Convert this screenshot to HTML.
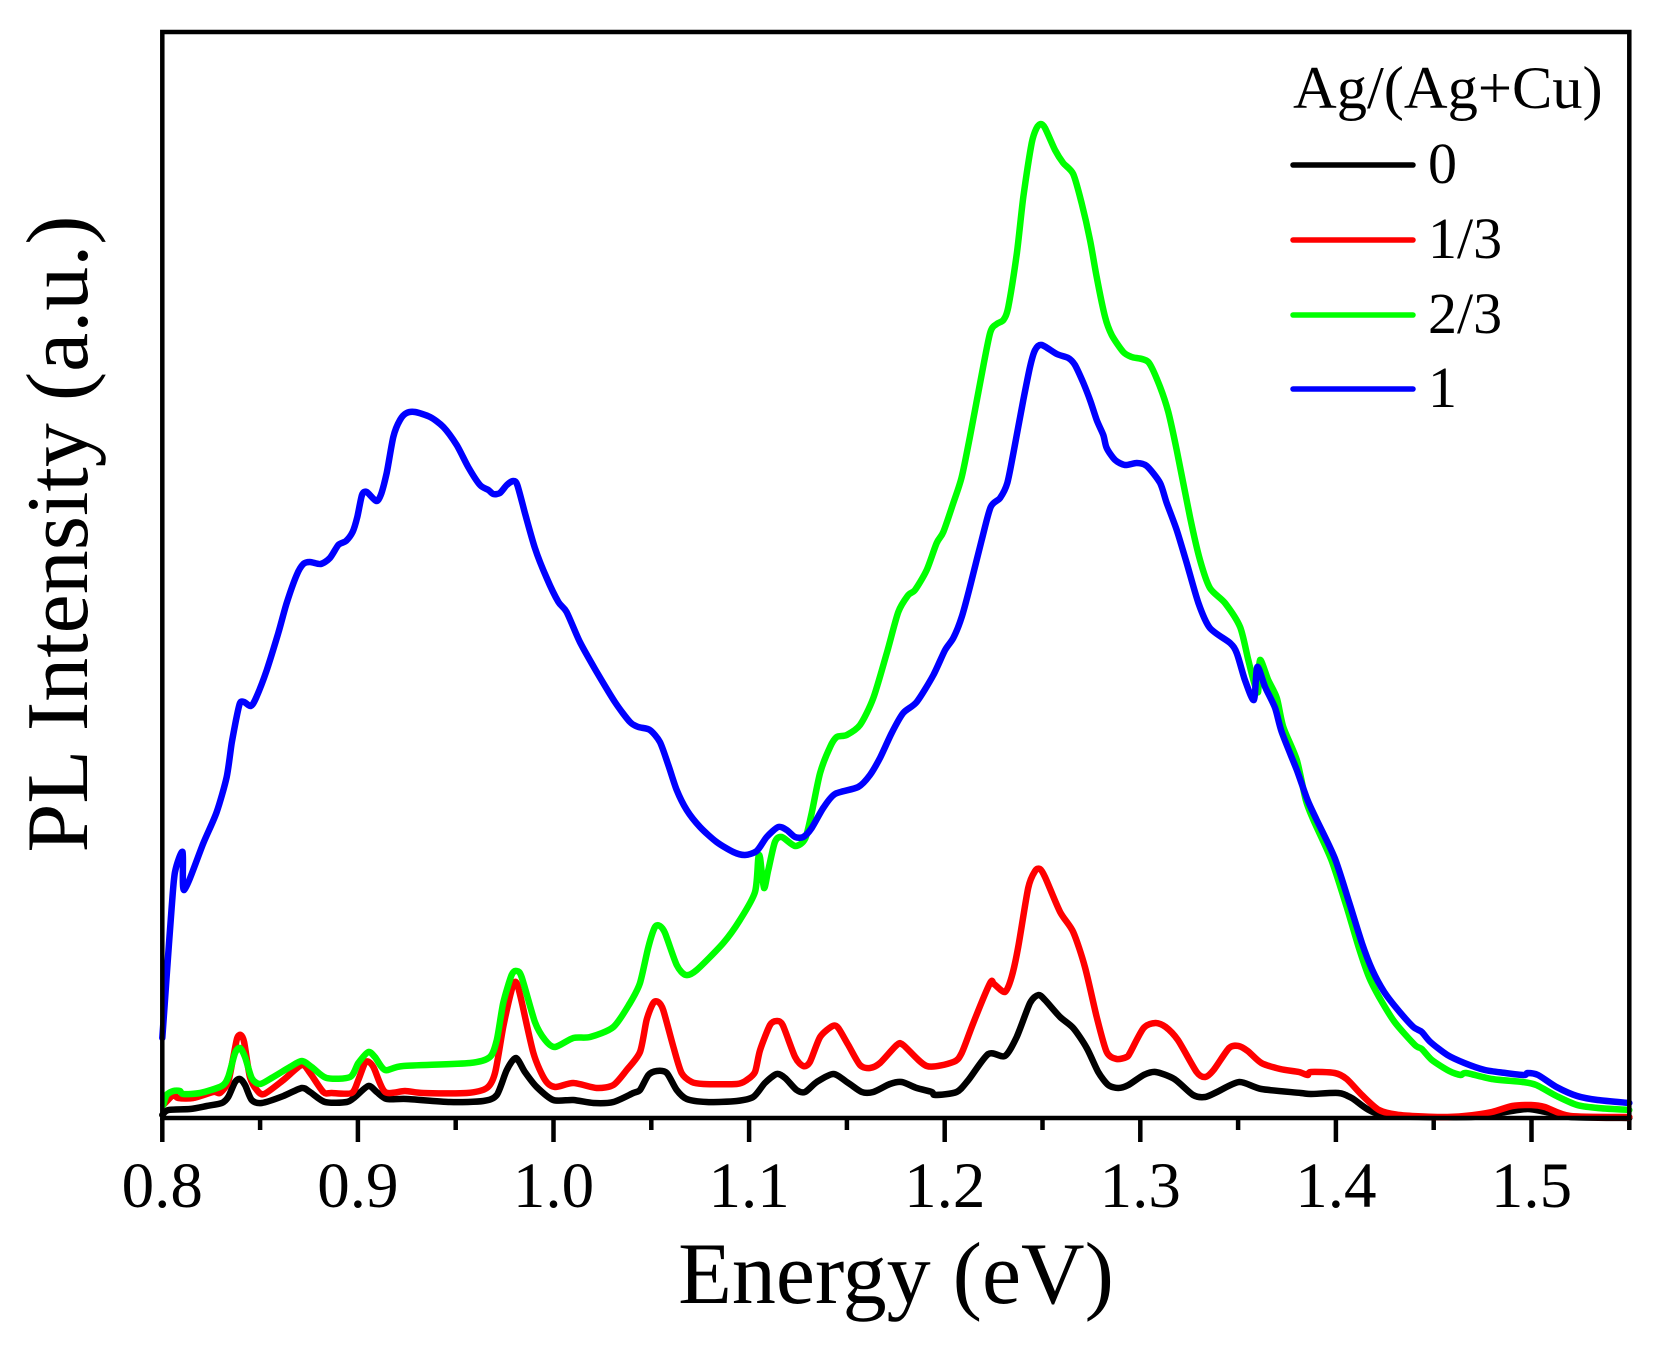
<!DOCTYPE html>
<html lang="en">
<head>
<meta charset="utf-8">
<title>PL Intensity vs Energy</title>
<style>
html,body{margin:0;padding:0;background:#fff;width:1665px;height:1353px;overflow:hidden}
svg{display:block}
text{font-family:"Liberation Serif","Times New Roman",serif;fill:#000}
</style>
</head>
<body>
<svg id="chart" width="1665" height="1353" viewBox="0 0 1665 1353" xmlns="http://www.w3.org/2000/svg">
  <g id="axes"></g>
  <g id="series"></g>
  <rect x="162.3" y="32" width="1467" height="1086" fill="none" stroke="#000" stroke-width="4.5"></rect>
  <text x="896" y="1303" font-size="88" text-anchor="middle">Energy (eV)</text>
  <text transform="translate(87,534) rotate(-90)" font-size="88" text-anchor="middle">PL Intensity (a.u.)</text>
  <g>
    <text x="1293" y="108" font-size="60.5">Ag/(Ag+Cu)</text>
    <line x1="1293" y1="165" x2="1413" y2="165" stroke="#000" stroke-width="5.5" stroke-linecap="round"></line>
    <text x="1428" y="183" font-size="58">0</text>
    <line x1="1293" y1="240" x2="1413" y2="240" stroke="#f00" stroke-width="5.5" stroke-linecap="round"></line>
    <text x="1428" y="258" font-size="58">1/3</text>
    <line x1="1293" y1="315" x2="1413" y2="315" stroke="#0f0" stroke-width="5.5" stroke-linecap="round"></line>
    <text x="1428" y="333" font-size="58">2/3</text>
    <line x1="1293" y1="389" x2="1413" y2="389" stroke="#00f" stroke-width="5.5" stroke-linecap="round"></line>
    <text x="1428" y="407" font-size="58">1</text>
  </g>
</svg>
<script>
const majorTicks = [0.8, 0.9, 1.0, 1.1, 1.2, 1.3, 1.4, 1.5];
const majorLabels = ["0.8", "0.9", "1.0", "1.1", "1.2", "1.3", "1.4", "1.5"];
const minorTicks = [0.85, 0.95, 1.05, 1.15, 1.25, 1.35, 1.45, 1.55];

const energy0 = [.8,.8031,.8142,.8227,.8304,.8337,.8372,.8397,.8423,.8457,.8508,.8619,.8713,.8755,.8832,.8943,.8985,.9053,.9096,.9147,.9249,.9471,.9641,.971,.9761,.9808,.9854,.9914,.9999,1.0101,1.0204,1.0306,1.0408,1.0442,1.0485,1.0528,1.0579,1.063,1.0681,1.0783,1.0937,1.1021,1.1081,1.1141,1.1184,1.1243,1.1286,1.1346,1.1431,1.1507,1.1576,1.1635,1.172,1.178,1.1857,1.1934,1.1951,1.2061,1.2121,1.2223,1.2308,1.2368,1.2436,1.2479,1.2513,1.259,1.2657,1.2726,1.2785,1.2836,1.2887,1.2939,1.3017,1.3078,1.3174,1.327,1.3332,1.3392,1.3506,1.3619,1.382,1.3872,1.4012,1.4081,1.4239,1.4692,1.4867,1.498,1.5075,1.5199,1.55];
const intensity0 = [3,8,9,12,15,21,36,39,33,18,15,22,30,26,16,16,21,32,26,19,19,16,17,23,48,60,46,31,18,18,15,16,25,28,43,47,45,28,19,16,17,21,35,44,40,28,26,36,44,35,26,26,34,36,30,26,23,26,38,64,62,81,115,123,118,101,90,70,46,33,30,33,43,46,39,23,21,26,36,29,25,24,25,20,3,1,6,9,6,1,0];

const energy13 = [.8005,.8056,.8082,.8158,.8261,.8295,.8337,.8363,.8383,.8401,.8418,.8448,.8483,.8521,.8619,.8713,.8755,.8823,.8866,.8968,.9002,.9036,.9057,.9082,.9139,.9241,.9334,.9556,.9659,.9701,.9743,.9786,.9808,.9832,.9897,.9957,1.0008,1.0101,1.0221,1.0306,1.0374,1.0442,1.0476,1.051,1.0536,1.0561,1.0613,1.0655,1.0707,1.0766,1.0937,1.0988,1.103,1.1056,1.1107,1.1141,1.1172,1.1235,1.1277,1.1311,1.1363,1.1427,1.1456,1.1507,1.1567,1.1618,1.1669,1.1755,1.1788,1.1908,1.2044,1.2087,1.2146,1.2232,1.2252,1.2308,1.2342,1.2376,1.2427,1.2462,1.2487,1.2513,1.259,1.2657,1.2717,1.2777,1.2828,1.2879,1.293,1.2947,1.3017,1.3078,1.313,1.3192,1.3288,1.3332,1.3375,1.3454,1.3502,1.3549,1.3619,1.3715,1.3811,1.3855,1.3872,1.3994,1.4055,1.4133,1.4221,1.4326,1.4518,1.4657,1.4797,1.4902,1.4998,1.5068,1.5199,1.55];
const intensity13 = [13,23,20,20,26,25,36,61,80,83,76,41,28,24,38,53,45,26,25,25,38,55,56,50,26,27,25,25,30,45,91,128,136,121,65,38,31,35,30,33,48,66,98,115,116,108,71,45,36,34,34,38,46,68,93,97,93,61,52,56,81,92,90,73,53,50,55,73,73,52,56,65,95,135,134,126,141,171,230,247,249,241,206,186,151,101,66,59,61,65,90,95,91,78,46,41,48,70,72,67,55,49,46,43,46,45,39,23,8,3,1,2,6,12,13,11,2,1];

const energy23 = [.8005,.8022,.8056,.809,.8107,.8193,.8304,.8337,.8372,.8397,.8423,.8457,.8499,.8559,.8653,.8713,.8764,.884,.896,.9002,.9053,.9087,.9139,.9232,.9573,.9675,.971,.9743,.9786,.9812,.9837,.9905,.9957,1.0008,1.0101,1.0187,1.0306,1.0391,1.0442,1.0485,1.0519,1.0544,1.057,1.063,1.0677,1.0732,1.0868,1.0953,1.103,1.1047,1.1056,1.1076,1.1098,1.1132,1.1167,1.1235,1.1286,1.132,1.1363,1.1414,1.1448,1.1499,1.1567,1.1635,1.1704,1.1763,1.1814,1.1848,1.1908,1.1959,1.1993,1.2044,1.2087,1.2129,1.2181,1.2232,1.2266,1.23,1.2325,1.2369,1.2402,1.2445,1.247,1.2492,1.2513,1.2564,1.2606,1.2657,1.27,1.2743,1.2777,1.282,1.2854,1.2913,1.2956,1.3041,1.3101,1.3143,1.3186,1.3254,1.3305,1.3356,1.3433,1.351,1.3552,1.3578,1.3602,1.3612,1.3654,1.3698,1.3731,1.38,1.3846,1.3885,1.3977,1.4055,1.4116,1.4169,1.4221,1.43,1.4404,1.4439,1.4491,1.4579,1.4637,1.4666,1.4797,1.4954,1.5024,1.5128,1.5233,1.5338,1.55];
const intensity23 = [13,23,27,27,24,25,32,41,65,70,61,40,34,40,51,57,51,40,41,55,66,61,48,52,55,61,78,115,143,147,141,96,78,71,80,81,91,115,135,171,191,192,185,153,143,148,175,198,226,260,260,230,248,276,281,272,279,305,345,371,381,383,393,420,465,506,523,528,548,575,586,615,641,681,735,785,794,798,811,865,921,975,990,994,990,968,955,944,915,878,841,801,783,766,761,756,731,706,668,601,558,530,515,491,458,438,426,458,438,420,391,358,318,298,258,211,171,141,121,96,73,69,58,47,43,45,39,36,33,22,13,10,8];

const energy1 = [.8,.8022,.8048,.8065,.8104,.8112,.821,.8278,.8329,.8355,.8377,.8397,.8418,.8452,.8479,.8534,.8593,.8636,.8687,.8721,.8755,.881,.8857,.89,.8939,.8973,.8997,.9021,.9045,.9093,.9117,.9147,.9181,.9215,.9249,.9292,.9369,.9437,.9505,.9564,.9624,.9667,.9692,.9726,.9761,.9794,.9815,.9854,.9905,.9965,1.0025,1.0067,1.0135,1.0221,1.0314,1.0391,1.0434,1.0493,1.0544,1.0587,1.063,1.0681,1.0749,1.0834,1.0919,1.0979,1.1039,1.109,1.1149,1.1192,1.1235,1.1277,1.132,1.1379,1.1439,1.1558,1.1618,1.1669,1.1729,1.1788,1.1857,1.1942,1.2002,1.2044,1.2087,1.2129,1.2189,1.2235,1.2283,1.232,1.2351,1.2402,1.2436,1.2462,1.2496,1.2573,1.2632,1.2666,1.2709,1.2743,1.2777,1.2811,1.2828,1.2871,1.2922,1.2982,1.3033,1.3101,1.3135,1.3186,1.3237,1.3297,1.3356,1.3459,1.3493,1.3535,1.3581,1.3598,1.3638,1.3689,1.3723,1.38,1.3855,1.3902,1.3994,1.4064,1.4133,1.4186,1.4247,1.4326,1.4396,1.4439,1.4483,1.457,1.4657,1.4762,1.4867,1.4963,1.498,1.5033,1.5128,1.5233,1.5338,1.55];
const intensity1 = [80,141,211,246,266,228,275,306,341,375,398,415,416,412,420,448,485,515,543,554,556,554,560,573,577,586,601,623,626,617,623,645,681,698,705,706,701,691,673,651,633,628,624,625,633,637,633,605,570,540,516,506,476,446,416,396,391,388,376,353,328,308,291,276,266,263,267,281,291,288,281,281,290,310,324,331,343,360,385,405,416,443,468,480,501,531,578,611,620,635,665,718,751,768,773,764,760,753,735,718,698,683,670,658,653,655,652,635,615,588,555,515,490,475,465,438,418,451,431,410,386,348,318,298,260,218,175,148,126,106,91,86,76,63,55,48,45,43,45,43,31,22,18,15];

const NS = "http://www.w3.org/2000/svg";
const xScale = function (e) { return 162.3 + (e - 0.8) * 1956; };
const yScale = function (v) { return 1118 - v; };
const axes = document.getElementById("axes");
const seriesGroup = document.getElementById("series");

majorTicks.forEach(function (t, i) {
  const tick = document.createElementNS(NS, "line");
  
  
  tick.setAttribute("x1", xScale(t));
  tick.setAttribute("x2", xScale(t));
  tick.setAttribute("y1", 1118);
  tick.setAttribute("y2", 1142);
  tick.setAttribute("stroke", "#000");
  tick.setAttribute("stroke-width", 4.5);
  axes.appendChild(tick);
  const label = document.createElementNS(NS, "text");
  
  
  label.setAttribute("x", xScale(t));
  label.setAttribute("y", 1207);
  label.setAttribute("font-size", 65);
  label.setAttribute("text-anchor", "middle");
  label.textContent = majorLabels[i];
  axes.appendChild(label);
});

minorTicks.forEach(function (t) {
  const tick = document.createElementNS(NS, "line");
  
  
  tick.setAttribute("x1", xScale(t));
  tick.setAttribute("x2", xScale(t));
  tick.setAttribute("y1", 1118);
  tick.setAttribute("y2", 1130);
  tick.setAttribute("stroke", "#000");
  tick.setAttribute("stroke-width", 4.5);
  axes.appendChild(tick);
});

function smoothPath(pts) {
  let d = "M" + pts[0][0].toFixed(1) + " " + pts[0][1].toFixed(1);
  const t = 0.13;
  for (let i = 0; i < pts.length - 1; i++) {
    const p0 = pts[Math.max(i - 1, 0)];
    const p1 = pts[i];
    const p2 = pts[i + 1];
    const p3 = pts[Math.min(i + 2, pts.length - 1)];
    const c1x = p1[0] + (p2[0] - p0[0]) * t;
    const c1y = p1[1] + (p2[1] - p0[1]) * t;
    const c2x = p2[0] - (p3[0] - p1[0]) * t;
    const c2y = p2[1] - (p3[1] - p1[1]) * t;
    d += "C" + c1x.toFixed(1) + " " + c1y.toFixed(1) + " " + c2x.toFixed(1) + " " + c2y.toFixed(1) + " " + p2[0].toFixed(1) + " " + p2[1].toFixed(1);
  }
  return d;
}

function drawSeries(energies, intensities, color) {
  const line = document.createElementNS(NS, "path");
  
  
  line.setAttribute("fill", "none");
  line.setAttribute("stroke", color);
  line.setAttribute("stroke-width", 6.5);
  line.setAttribute("stroke-linejoin", "round");
  line.setAttribute("stroke-linecap", "round");
  line.setAttribute("d", smoothPath(energies.map(function (e, i) {
    return [xScale(e), yScale(intensities[i])];
  })));
  seriesGroup.appendChild(line);
}

drawSeries(energy0, intensity0, "#000000");
drawSeries(energy13, intensity13, "#ff0000");
drawSeries(energy23, intensity23, "#00ff00");
drawSeries(energy1, intensity1, "#0000ff");
</script>
</body>
</html>
